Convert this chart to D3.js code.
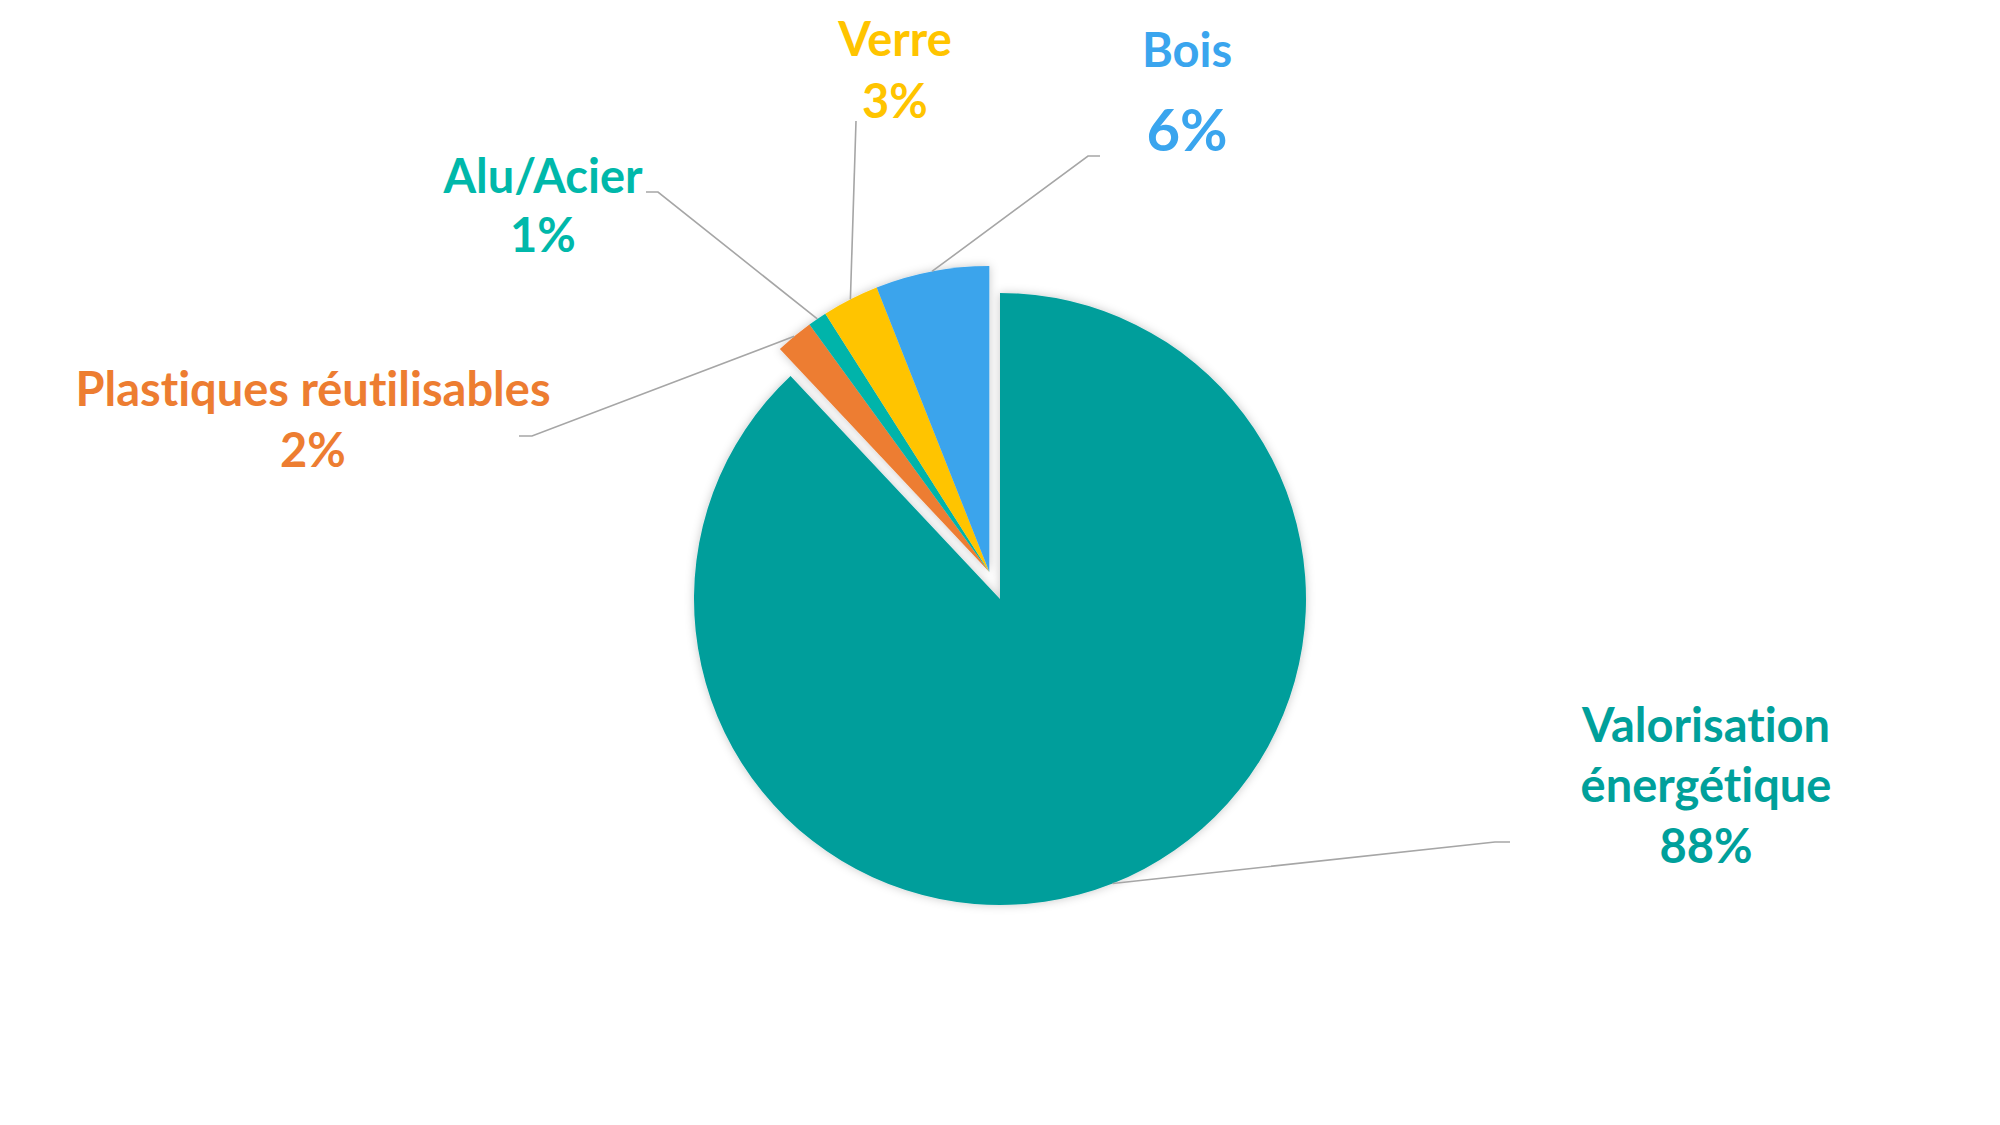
<!DOCTYPE html>
<html>
<head>
<meta charset="utf-8">
<script src="https://cdn.jsdelivr.net/npm/d3@7"></script>
<style>
  html, body { margin: 0; padding: 0; background: #ffffff; }
  svg { display: block; }
  text { font-family: Lato, "Open Sans", sans-serif; font-weight: 700; font-variant-ligatures: none; font-feature-settings: "liga" 0, "clig" 0; }
</style>
</head>
<body>
<svg id="chart" width="2000" height="1125"></svg>
<script>
// ---- data ----
const categories = ["Valorisation énergétique", "Plastiques réutilisables", "Alu/Acier", "Verre", "Bois"];
const values = [88, 2, 1, 3, 6];
const percentLabels = ["88%", "2%", "1%", "3%", "6%"];
const labelLines = [["Valorisation", "énergétique"], ["Plastiques réutilisables"], ["Alu/Acier"], ["Verre"], ["Bois"]];

// ---- styles / layout ----
const sliceColors = ["#009E9B", "#ED7D31", "#00B4AA", "#FFC400", "#3BA4EC"];
const textColors  = ["#00A09B", "#ED7D31", "#00B8AA", "#FFC400", "#3AA5EE"];
const cx = 1000, cy = 599, R = 306, explode = 29;
const layout = [
  { x: 1706, lineY: [742, 802], pctY: 863, size: 47, pctSize: 47, elbow: [1495, 842], end: [1510, 842] },
  { x: 313,  lineY: [406],      pctY: 467, size: 47, pctSize: 47, elbow: [532, 436],  end: [519, 436] },
  { x: 543,  lineY: [193],      pctY: 252, size: 47, pctSize: 47, elbow: [658, 192],  end: [646, 192] },
  { x: 895,  lineY: [56],       pctY: 118, size: 47, pctSize: 47, elbow: [856, 121],  end: null },
  { x: 1187, lineY: [67],       pctY: 151, size: 47, pctSize: 58, elbow: [1088, 156], end: [1100, 156] }
];

const svg = d3.select("#chart");
const defs = svg.append("defs");
const f = defs.append("filter").attr("id", "glow")
  .attr("x", "-20%").attr("y", "-20%").attr("width", "140%").attr("height", "140%");
f.append("feGaussianBlur").attr("in", "SourceAlpha").attr("stdDeviation", 5).attr("result", "b");
f.append("feFlood").attr("flood-color", "#000").attr("flood-opacity", 0.22).attr("result", "c");
f.append("feComposite").attr("in", "c").attr("in2", "b").attr("operator", "in").attr("result", "s");
const m = f.append("feMerge");
m.append("feMergeNode").attr("in", "s");
m.append("feMergeNode").attr("in", "SourceGraphic");

const pie = d3.pie().sort(null).value(d => d).startAngle(0).endAngle(2 * Math.PI);
const arcs = pie(values);
const arc = d3.arc().innerRadius(0).outerRadius(R);

// small slices (all but first) are exploded together along their group mid-angle
const gStart = arcs[1].startAngle, gEnd = arcs[arcs.length - 1].endAngle;
const gMid = (gStart + gEnd) / 2;
const off = [explode * Math.sin(gMid), -explode * Math.cos(gMid)];

function offsetOf(i) { return i === 0 ? [0, 0] : off; }

const gPie = svg.append("g").attr("transform", `translate(${cx},${cy})`);
const bigG = gPie.append("g").attr("filter", "url(#glow)");
bigG.append("path").attr("d", arc(arcs[0])).attr("fill", sliceColors[0]);
const smallG = gPie.append("g").attr("filter", "url(#glow)")
  .attr("transform", `translate(${off[0]},${off[1]})`);
arcs.slice(1).forEach((a, k) => {
  smallG.append("path").attr("d", arc(a)).attr("fill", sliceColors[k + 1]);
});

// leader lines
const lineG = svg.append("g");
arcs.forEach((a, i) => {
  const mid = (a.startAngle + a.endAngle) / 2;
  const o = offsetOf(i);
  const sx = cx + o[0] + R * Math.sin(mid);
  const sy = cy + o[1] - R * Math.cos(mid);
  const L = layout[i];
  const pts = [[sx, sy], L.elbow];
  if (L.end) pts.push(L.end);
  lineG.append("path")
    .attr("d", d3.line()(pts))
    .attr("fill", "none").attr("stroke", "#A6A6A6").attr("stroke-width", 1.6);
});

// labels
const labG = svg.append("g");
arcs.forEach((a, i) => {
  const L = layout[i];
  labelLines[i].forEach((t, j) => {
    labG.append("text").attr("x", L.x).attr("y", L.lineY[j])
      .attr("text-anchor", "middle").attr("font-size", L.size)
      .attr("fill", textColors[i]).text(t);
  });
  labG.append("text").attr("x", L.x).attr("y", L.pctY)
    .attr("text-anchor", "middle").attr("font-size", L.pctSize)
    .attr("fill", textColors[i]).text(percentLabels[i]);
});
</script>
</body>
</html>
